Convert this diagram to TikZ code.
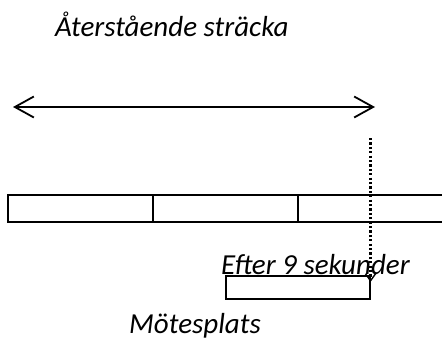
\documentclass[tikz,border=0pt]{standalone}
\usepackage{fontspec}
\setmainfont{Carlito}
\usetikzlibrary{arrows.meta}
\begin{document}
\begin{tikzpicture}[x=1pt,y=-1pt,
  lbl/.style={font=\fontsize{29}{34}\selectfont\itshape, inner sep=0pt, anchor=base west},
  seg/.style={draw, line width=1.5pt},
  bigarrow/.style={line width=1.8pt, {Straight Barb[length=19pt,width=21pt,line width=1.8pt]}-{Straight Barb[length=19pt,width=21pt,line width=1.8pt]}},
  dotarrow/.style={line width=2.4pt, dash pattern=on 2.2pt off 2.2pt, -{Straight Barb[length=7pt,width=10pt,line width=1.4pt,sep=0pt]}}]
\useasboundingbox (0,0) rectangle (442,343);
% labels
\node[lbl] (title) at (55,36) {Återstående sträcka};
\node[lbl] (after) at (221,274) {Efter 9 sekunder};
\node[lbl] (meet) at (129,333) {Mötesplats};
% top arrow
\coordinate (aL) at (13,107);
\coordinate (aR) at (375,107);
\draw[bigarrow] (aL) -- (aR);
% long bar
\draw[seg] (444,195) -- (8,195) -- (8,222) -- (444,222);
\draw[seg] (153,195) -- (153,222);
\draw[seg] (298,195) -- (298,222);
% small box
\draw[seg] (226,276) rectangle (370,299);
% dotted arrow
\coordinate (dTop) at (370.5,138);
\coordinate (dTip) at (370.5,282);
\draw[dotarrow] (dTop) -- (dTip);
\end{tikzpicture}
\end{document}
